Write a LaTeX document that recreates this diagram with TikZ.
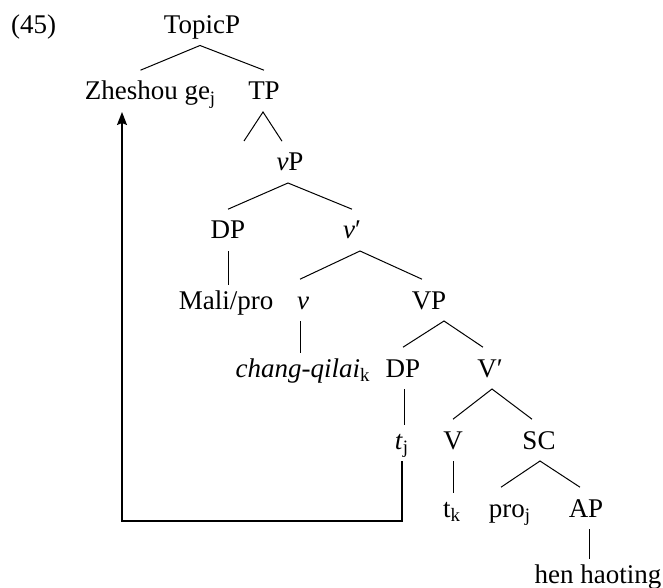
\documentclass[tikz,border=0pt]{standalone}
\usepackage{fontspec}
\setmainfont{Liberation Serif}
\usetikzlibrary{arrows.meta}

\tikzset{
  lab/.style={anchor=base, inner xsep=0pt, inner ysep=5.75pt, text height=8.9pt,
    text depth=0pt, font=\fontsize{13.5}{16}\selectfont},
  unary/.style={shorten >=-2.75pt}
}

\begin{document}
\begin{tikzpicture}[x=0.5pt,y=-0.5pt,line width=0.5pt]
  \useasboundingbox (0,0) rectangle (663,588);
  % labels, row by row
  \node[lab] at (33.5,33.5) (ex) {(45)};
  \node[lab] at (202,33.5) (topicp) {TopicP};
  \node[lab] at (150.5,100) (zheshou) {Zheshou ge\textsubscript{j}};
  \node[lab] at (264,100) (tp) {TP};
  \node[lab] at (290,171) (vp) {\textit{v}P};
  \node[lab] at (228,239) (dp) {DP};
  \node[lab] at (352,239) (vbar) {\textit{v}′};
  \node[lab] at (226,309) (mali) {Mali/pro};
  \node[lab] at (303,309) (vhead) {\textit{v}};
  \node[lab] at (429,309) (bigvp) {VP};
  \node[lab] at (303,377) (chang) {\textit{chang-qilai}\textsubscript{k}};
  \node[lab] at (403,377) (dpb) {DP};
  \node[lab] at (490,377) (bigvbar) {V′};
  \node[lab] at (402,449) (tj) {\textit{t}\textsubscript{j}};
  \node[lab] at (453,449) (bigv) {V};
  \node[lab] at (539,449) (sc) {SC};
  \node[lab] at (452,517) (tk) {t\textsubscript{k}};
  \node[lab] at (510,517) (proj) {pro\textsubscript{j}};
  \node[lab] at (586,517) (ap) {AP};
  \node[lab] at (598,583) (hen) {hen haoting};
  \coordinate (tleg) at (244,141);
  \coordinate (corner) at (122,521);
  % branches
  \draw ([xshift=-5pt]zheshou.north) -- ([xshift=-1pt]topicp.south) -- (tp.north);
  \draw (tleg) -- ([xshift=-0.5pt]tp.south) -- ([xshift=-4pt]vp.north);
  \draw (dp.north) -- ([xshift=-1pt]vp.south) -- (vbar.north);
  \draw (dp.south) -- (dp.south |- mali.north) [unary];
  \draw ([xshift=-1.5pt]vhead.north) -- ([xshift=4pt]vbar.south) -- ([xshift=-3.5pt]bigvp.north);
  \draw[unary] ([xshift=-1.5pt]vhead.south) -- ([xshift=-1.5pt]vhead.south |- chang.north);
  \draw (dpb.north) -- ([xshift=7.5pt]bigvp.south) -- ([xshift=-3.5pt]bigvbar.north);
  \draw[unary] ([xshift=0.5pt]dpb.south) -- ([xshift=0.5pt]dpb.south |- tj.north);
  \draw (bigv.north) -- ([xshift=1pt]bigvbar.south) -- ([xshift=-3.5pt]sc.north);
  \draw[unary] (bigv.south) -- (bigv.south |- tk.north);
  \draw ([xshift=-4.5pt]proj.north) -- ([xshift=0.5pt]sc.south) -- ([xshift=-3pt]ap.north);
  \draw[unary] ([xshift=1.5pt]ap.south) -- ([xshift=1.5pt]ap.south |- hen.north);
  % movement arrow
  \draw[line width=0.7pt,-{Stealth[length=6.5pt,width=5pt,inset=1pt]}]
    (tj.south) |- (corner) -- (corner |- zheshou.south);
\end{tikzpicture}
\end{document}
